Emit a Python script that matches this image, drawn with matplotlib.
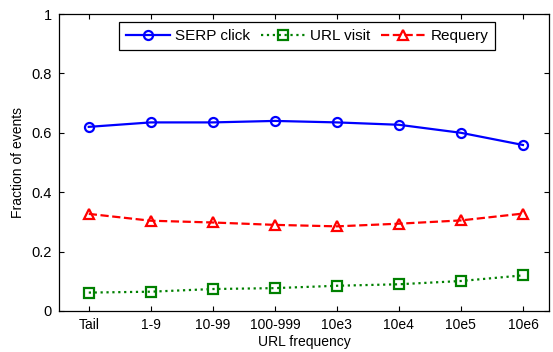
import matplotlib
matplotlib.use("Agg")
import matplotlib.pyplot as plt

plt.rcParams['font.family'] = ['Liberation Sans', 'DejaVu Sans']

categories = ["Tail", "1-9", "10-99", "100-999", "10e3", "10e4", "10e5", "10e6"]
serp_click = [0.620, 0.635, 0.635, 0.640, 0.635, 0.627, 0.600, 0.559]
url_visit = [0.062, 0.065, 0.074, 0.077, 0.085, 0.090, 0.101, 0.120]
requery = [0.327, 0.304, 0.298, 0.290, 0.285, 0.294, 0.305, 0.328]
y_ticks = [0, 0.2, 0.4, 0.6, 0.8, 1]
y_tick_labels = ["0", "0.2", "0.4", "0.6", "0.8", "1"]

fig = plt.figure(figsize=(5.53, 3.52), dpi=100)
ax = fig.add_axes([59 / 553, 41 / 352, 490 / 553, 297 / 352])

x = list(range(1, len(categories) + 1))
ax.plot(x, serp_click, color=(0, 0, 1), linestyle='-', linewidth=1.6,
        marker='o', markersize=6.5, markerfacecolor='none', markeredgewidth=1.6,
        label="SERP click")
ax.plot(x, url_visit, color=(0, 0.5, 0), linestyle=':', linewidth=1.6,
        marker='s', markersize=6.5, markerfacecolor='none', markeredgewidth=1.6,
        label="URL visit")
ax.plot(x, requery, color=(1, 0, 0), linestyle='--', linewidth=1.6,
        marker='^', markersize=7.5, markerfacecolor='none', markeredgewidth=1.6,
        label="Requery")

ax.set_xlim(0.52, 8.42)
ax.set_ylim(0, 1)
ax.set_xticks(x)
ax.set_xticklabels(categories, fontsize=10)
ax.set_yticks(y_ticks)
ax.set_yticklabels(y_tick_labels, fontsize=10.5)
ax.tick_params(direction='in', top=True, right=True, length=3.5, width=0.8,
               pad=5)
for s in ax.spines.values():
    s.set_linewidth(0.9)

ax.set_xlabel("URL frequency", fontsize=10, labelpad=2)
ax.set_ylabel("Fraction of events", fontsize=10, labelpad=5)

leg = ax.legend(loc='upper left', bbox_to_anchor=(119 / 553, 330 / 352),
                bbox_transform=fig.transFigure, ncol=3, frameon=True,
                fancybox=False, edgecolor='black', framealpha=1,
                fontsize=11, handlelength=2.9, columnspacing=0.7,
                handletextpad=0.33, borderpad=0.45, borderaxespad=0)
leg.get_frame().set_linewidth(0.9)

fig.savefig("out.png", dpi=100)
